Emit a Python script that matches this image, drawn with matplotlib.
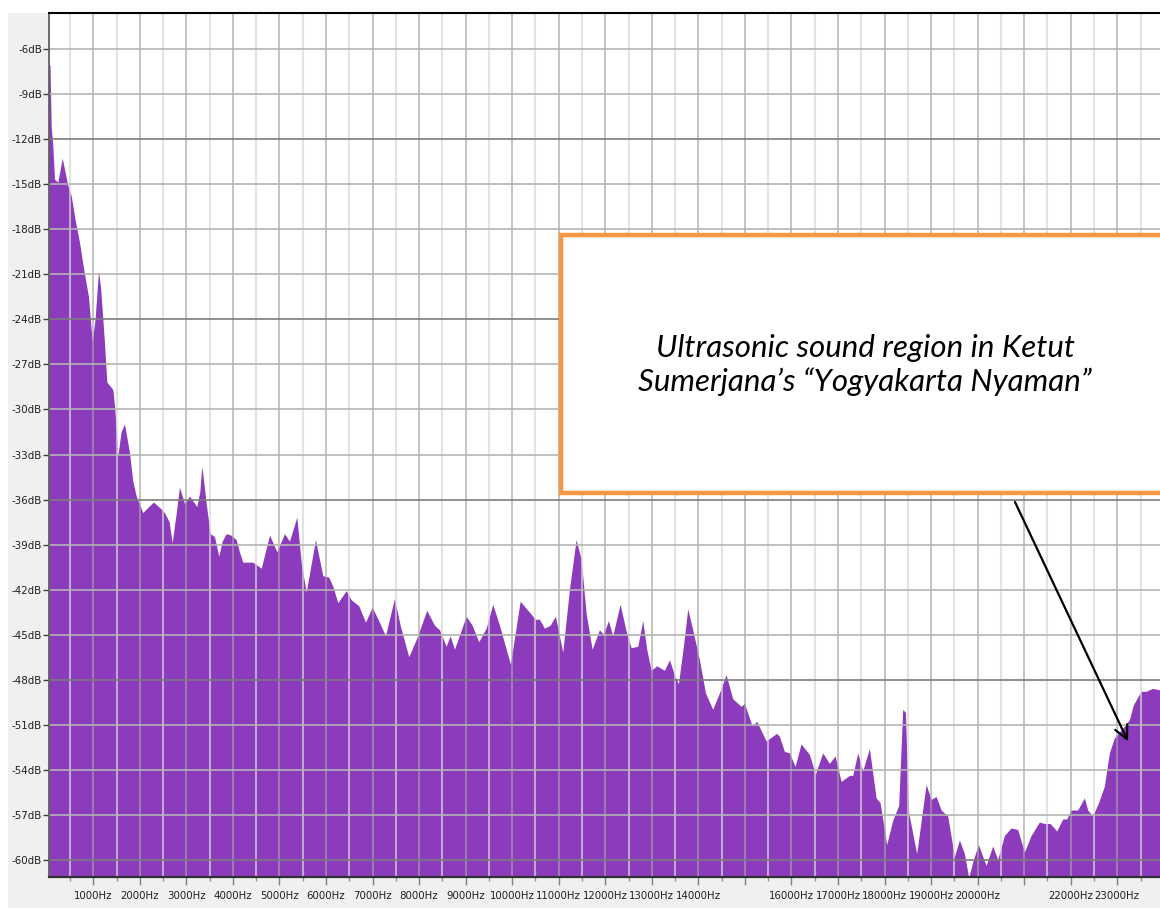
import matplotlib
matplotlib.use("Agg")
import matplotlib.pyplot as plt
from matplotlib.patches import Rectangle

# spectrum (Hz, dB)
freq_hz = [50, 82, 107, 142, 178, 249, 344, 464, 537, 615, 715, 800, 907, 988,
           1050, 1123, 1170, 1250, 1302, 1431, 1475, 1538, 1610, 1682, 1789,
           1860, 1933, 2075, 2200, 2305, 2450, 2541, 2640, 2706, 2790, 2863,
           2971, 3078, 3235, 3300, 3342, 3390, 3437, 3523, 3615, 3707, 3780,
           3866, 3970, 4081, 4150, 4223, 4441, 4620, 4700, 4798, 4955, 5119,
           5226, 5384, 5477, 5585, 5785, 5942, 6071, 6157, 6264, 6444, 6551,
           6715, 6859, 7003, 7159, 7288, 7482, 7604, 7789, 7982, 8175, 8341,
           8448, 8592, 8678, 8770, 9022, 9151, 9292, 9451, 9593, 9737, 9973,
           10182, 10345, 10510, 10596, 10703, 10826, 10940, 11097, 11241,
           11384, 11492, 11599, 11728, 11885, 11971, 12078, 12171, 12330,
           12458, 12566, 12708, 12815, 12901, 12996, 13116, 13281, 13389,
           13496, 13582, 13689, 13782, 13889, 14033, 14162, 14319, 14463,
           14606, 14749, 14929, 15000, 15165, 15264, 15466, 15693, 15752,
           15859, 15966, 16088, 16217, 16395, 16525, 16682, 16825, 16948,
           17077, 17255, 17327, 17434, 17541, 17685, 17828, 17914, 18056,
           18185, 18314, 18400, 18458, 18529, 18701, 18903, 19010, 19117,
           19225, 19367, 19511, 19618, 19725, 19818, 19919, 20026, 20191,
           20334, 20441, 20585, 20729, 20871, 21014, 21158, 21337, 21444,
           21566, 21709, 21837, 21923, 22017, 22159, 22303, 22374, 22481,
           22610, 22733, 22840, 22947, 23091, 23269, 23355, 23520, 23627,
           23769, 23917]
level_db = [-7.1, -7.1, -11.2, -12.5, -14.7, -14.9, -13.3, -15.1, -15.8, -17.3,
            -18.9, -20.6, -22.5, -25.5, -24.0, -20.8, -22.0, -25.5, -28.2,
            -28.7, -30.0, -33.1, -31.5, -31.0, -32.9, -34.8, -35.8, -36.9,
            -36.5, -36.2, -36.6, -36.9, -37.5, -38.9, -37.0, -35.2, -36.3,
            -35.8, -36.5, -35.5, -33.8, -35.0, -36.3, -38.3, -38.5, -39.8,
            -38.8, -38.3, -38.4, -38.7, -39.5, -40.2, -40.2, -40.6, -39.6,
            -38.4, -39.5, -38.3, -38.8, -37.2, -40.2, -42.2, -38.7, -41.1,
            -41.2, -41.8, -42.9, -42.1, -42.7, -43.1, -44.2, -43.2, -44.2,
            -45.1, -42.6, -44.4, -46.5, -45.1, -43.4, -44.4, -44.7, -45.8,
            -45.1, -46.0, -43.8, -44.4, -45.5, -44.6, -43.0, -44.4, -47.0,
            -42.8, -43.4, -44.0, -44.0, -44.6, -44.4, -43.8, -46.2, -42.0,
            -38.7, -40.0, -43.6, -46.0, -44.7, -45.0, -44.1, -45.1, -43.0,
            -44.8, -45.9, -45.8, -44.1, -46.0, -47.4, -47.1, -47.4, -46.7,
            -47.7, -48.3, -45.8, -43.3, -44.7, -46.7, -48.9, -50.0, -48.9,
            -47.7, -49.3, -49.8, -49.6, -51.1, -50.8, -52.1, -51.6, -51.8,
            -52.8, -52.9, -53.8, -52.3, -53.0, -54.3, -52.9, -53.6, -53.1,
            -54.8, -54.4, -54.4, -52.9, -54.1, -52.6, -55.9, -56.2, -59.0,
            -57.4, -56.4, -50.0, -50.2, -56.9, -59.6, -55.0, -56.0, -55.8,
            -56.7, -57.1, -59.8, -58.7, -59.6, -61.2, -60.0, -59.0, -60.4,
            -59.1, -60.0, -58.4, -57.9, -58.0, -59.5, -58.4, -57.5, -57.6,
            -57.6, -58.1, -57.3, -57.3, -56.7, -56.7, -55.9, -56.7, -57.1,
            -56.2, -55.1, -52.9, -51.9, -51.4, -50.7, -49.7, -48.8, -48.8,
            -48.6, -48.7]

db_ticks = list(range(-6, -61, -3))
db_labels = [f"{d}dB" for d in db_ticks]
hz_ticks = list(range(1000, 24000, 1000))
hz_labels = [f"{h}Hz" if h not in (15000, 21000) else "" for h in hz_ticks]
hz_minor = list(range(500, 24000, 1000))

note_text = "Ultrasonic sound region in Ketut\nSumerjana\u2019s \u201cYogyakarta Nyaman\u201d"
note_target = (23230, -52.1)

W, H = 1160, 908
fig = plt.figure(figsize=(W / 100, H / 100), dpi=100)
fig.patch.set_facecolor("white")

# grey panel behind the plot (like the app window)
fig.add_artist(Rectangle((8 / W, 0), 1, (H - 13) / H, transform=fig.transFigure,
                         facecolor="#f0f0f0", edgecolor="none", zorder=-10))

ax = fig.add_axes([49 / W, (H - 877) / H, (1160 - 49) / W, (877 - 13) / H])
ax.set_facecolor("white")
ax.set_xlim(49, 23917)
ax.set_ylim(-61.13, -3.6)

ax.fill_between(freq_hz, level_db, -70, color="#8b3bbb", linewidth=0, zorder=1)

# grid drawn over the fill
for h in hz_minor:
    ax.axvline(h, color="#d6d6d6", lw=1.5, alpha=0.7, zorder=2)
for h in hz_ticks:
    ax.axvline(h, color="#a4a4a4", lw=1.3, alpha=0.7, zorder=2)
for d in db_ticks:
    dark = d % 12 == 0
    ax.axhline(d, color="#7c7c7c" if dark else "#b4b4b4", lw=1.4, alpha=0.85, zorder=2)

ax.set_yticks(db_ticks)
ax.set_yticklabels(db_labels)
ax.set_xticks(hz_ticks)
ax.set_xticklabels(hz_labels)
for lbl in ax.get_xticklabels() + ax.get_yticklabels():
    lbl.set_family("DejaVu Sans")
    lbl.set_stretch("condensed")
    lbl.set_fontsize(8.2)
    lbl.set_color("#202020")
ax.set_xticks(hz_minor, minor=True)
ax.tick_params(axis="y", length=4, width=1, color="#404040", pad=1)
ax.tick_params(axis="x", which="major", length=6, width=1, color="#808080", pad=4)
ax.tick_params(axis="x", which="minor", length=3, width=1, color="#909090")

ax.spines["right"].set_visible(False)
ax.spines["top"].set_color("black")
ax.spines["top"].set_linewidth(1.5)
ax.spines["left"].set_color("#606060")
ax.spines["left"].set_linewidth(1.3)
ax.spines["bottom"].set_color("#303030")
ax.spines["bottom"].set_linewidth(1.6)

# annotation box
fig.add_artist(Rectangle((561 / W, (H - 493) / H), 0.6, (493 - 235) / H,
                         transform=fig.transFigure, facecolor="white",
                         edgecolor="#f79646", linewidth=3.2, zorder=5))
fig.text(865 / W, (H - 365) / H, note_text, ha="center", va="center",
         fontsize=22.5, style="italic", family=["Lato", "DejaVu Sans"],
         linespacing=1.22, color="black", zorder=6)

ax.annotate("", xy=note_target, xycoords="data",
            xytext=(1015 / W, (H - 502) / H), textcoords="figure fraction",
            arrowprops=dict(arrowstyle="->", color="black", lw=1.6,
                            mutation_scale=24, shrinkA=0, shrinkB=0),
            zorder=7, annotation_clip=False)

fig.savefig("out.png", dpi=100, facecolor=fig.get_facecolor())
